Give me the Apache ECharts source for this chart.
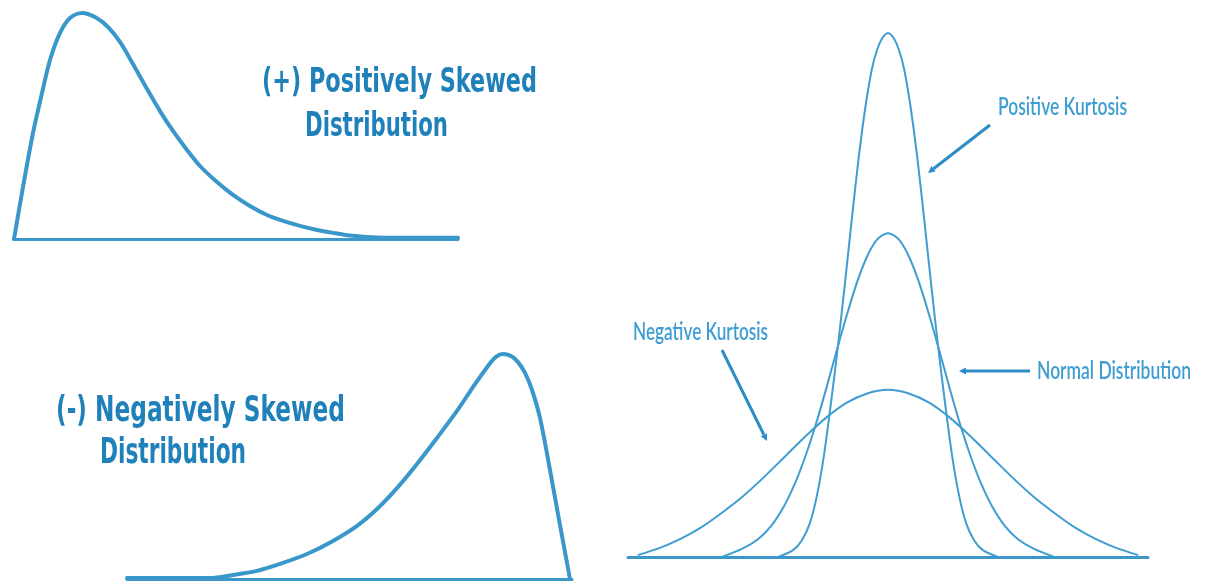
<!DOCTYPE html>
<html>
<head>
<meta charset="utf-8">
<script src="https://cdn.jsdelivr.net/npm/echarts@6/dist/echarts.min.js"></script>
<style>
  html, body { margin: 0; padding: 0; background: #ffffff; }
  #chart { width: 1205px; height: 584px; }
</style>
</head>
<body>
<div id="chart"></div>
<script>
// ---- Data (x: 0..100 across panel, y: 0..100 height) ----
const positiveSkew = [[0,0],[2.03,23.0],[4.28,46.9],[6.31,64.6],[8.11,79.2],[10.36,91.2],[12.61,97.8],[15.32,100],[18.24,98.2],[21.17,93.8],[23.87,87.2],[26.80,77.4],[29.95,66.4],[32.88,56.6],[35.81,47.8],[38.96,39.4],[41.89,32.3],[45.72,25.2],[49.32,19.5],[53.15,14.6],[56.98,10.6],[60.59,8.0],[64.41,5.8],[68.24,4.0],[71.85,2.7],[75.68,1.5],[79.50,0.9],[86.94,0.5],[100,0.5]];
const negativeSkew = [[0,0.4],[18.65,0.4],[23.82,1.8],[29.21,3.6],[34.38,6.7],[40.45,11.1],[46.29,16.9],[51.69,23.6],[56.18,31.1],[60.67,40.4],[65.17,51.1],[69.66,62.7],[74.16,74.7],[77.75,85.3],[81.12,94.7],[82.92,98.7],[84.49,100],[86.29,99.1],[87.87,96.4],[89.44,91.6],[91.01,84.0],[92.81,71.6],[95.06,48.4],[97.30,24.0],[99.55,0]];
// Kurtosis panel (x: -100..100 around the centre, y: 0..100)
const positiveKurtosis = [[-42.3,0],[-36.5,1.3],[-33.1,3.2],[-30.0,6.5],[-27.3,11.8],[-24.6,19.5],[-21.9,29.5],[-19.2,40.5],[-16.5,52.5],[-13.8,65.0],[-11.2,76.5],[-8.5,86.5],[-5.8,94.0],[-2.7,98.6],[0,100],[2.7,98.6],[5.8,94.0],[8.5,86.5],[11.2,76.5],[13.8,65.0],[16.5,52.5],[19.2,40.5],[21.9,29.5],[24.6,19.5],[27.3,11.8],[30.0,6.5],[33.1,3.2],[36.5,1.3],[42.3,0]];
const normalDistribution = [[-64,0],[-56,1.6],[-50,3.4],[-45,5.9],[-40,9.7],[-36,13.8],[-32,18.9],[-28,24.9],[-24,31.7],[-20,38.9],[-16,45.9],[-12,52.3],[-8,57.4],[-4,60.7],[0,61.8],[4,60.7],[8,57.4],[12,52.3],[16,45.9],[20,38.9],[24,31.7],[28,24.9],[32,18.9],[36,13.8],[40,9.7],[45,5.9],[50,3.4],[56,1.6],[64,0]];
const negativeKurtosis = [[-96,0.4],[-88,1.7],[-80,3.4],[-72,5.6],[-64,8.4],[-56,11.5],[-48,15.1],[-40,19.0],[-32,22.9],[-24,26.5],[-16,29.4],[-8,31.2],[0,31.9],[8,31.2],[16,29.4],[24,26.5],[32,22.9],[40,19.0],[48,15.1],[56,11.5],[64,8.4],[72,5.6],[80,3.4],[88,1.7],[96,0.4]];

const CURVE = '#3a97c9';
const CURVE_R = '#3f9dd0';
const TXT = '#1f80ba';
const TXT_R = '#3f9dd2';
const ARROW = '#2d8cc3';

const chart = echarts.init(document.getElementById('chart'), null, { renderer: 'canvas' });

function hiddenY(i) {
  return { type: 'value', gridIndex: i, min: 0, max: 100, show: false };
}
function baseX(i, min, max) {
  return {
    type: 'value', gridIndex: i, min: min, max: max,
    axisLine: { show: true, onZero: false, lineStyle: { color: CURVE, width: 3 } },
    axisTick: { show: false }, axisLabel: { show: false }, splitLine: { show: false }
  };
}
function curve(name, data, idx, color, width) {
  return {
    name: name, type: 'line', xAxisIndex: idx, yAxisIndex: idx, data: data,
    smooth: 0.3, showSymbol: false, clip: false, silent: true,
    lineStyle: { color: color, width: width, cap: 'round', join: 'round' }
  };
}

function fitScale(text, font, w) {
  const ctx = document.createElement('canvas').getContext('2d');
  ctx.font = font;
  return w / ctx.measureText(text).width;
}
const BOLD_FAMILY = '"Liberation Sans Narrow", "DejaVu Sans Condensed", "Liberation Sans", sans-serif';
const REG_FAMILY = 'Lato, "Open Sans", "Noto Sans", sans-serif';
const labels = [
  { text: '(+) Positively Skewed', x: 262, y: 83, w: 275, size: 33, bold: true, fill: TXT },
  { text: 'Distribution', x: 305, y: 127, w: 143, size: 33, bold: true, fill: TXT },
  { text: '(-) Negatively Skewed', x: 56, y: 412, w: 289, size: 36, bold: true, fill: TXT },
  { text: 'Distribution', x: 100, y: 454, w: 146, size: 36, bold: true, fill: TXT },
  { text: 'Positive Kurtosis', x: 998, y: 107, w: 129, size: 24, bold: false, fill: TXT_R },
  { text: 'Normal Distribution', x: 1037, y: 371, w: 154, size: 25, bold: false, fill: TXT_R },
  { text: 'Negative Kurtosis', x: 633, y: 332, w: 135, size: 24, bold: false, fill: TXT_R }
];
const graphics = [];
labels.forEach(function (l) {
  const weight = l.bold ? 'bold' : '600';
  const family = l.bold ? BOLD_FAMILY : REG_FAMILY;
  const font = weight + ' ' + l.size + 'px ' + family;
  graphics.push({
    type: 'text', x: l.x, y: l.y, scaleX: fitScale(l.text, font, l.w), silent: true,
    style: {
      text: l.text, fill: l.fill, fontSize: l.size,
      fontFamily: family, fontWeight: weight,
      align: 'left', verticalAlign: 'middle'
    }
  });
});
function arrow(x1, y1, x2, y2) {
  const dx = x2 - x1, dy = y2 - y1, len = Math.sqrt(dx * dx + dy * dy);
  const ux = dx / len, uy = dy / len, px = -uy, py = ux;
  const hl = 7, hw = 3.5;
  const bx = x2 - ux * hl, by = y2 - uy * hl;
  graphics.push({ type: 'line', silent: true, shape: { x1: x1, y1: y1, x2: bx, y2: by }, style: { stroke: ARROW, lineWidth: 3 } });
  graphics.push({ type: 'polygon', silent: true, shape: { points: [[x2, y2], [bx + px * hw, by + py * hw], [bx - px * hw, by - py * hw]] }, style: { fill: ARROW } });
}
arrow(990, 125, 928, 173);
arrow(1030, 371, 959, 371);
arrow(722, 350, 767, 441);

chart.setOption({
  animation: false,
  backgroundColor: '#ffffff',
  grid: [
    { left: 14, top: 13, width: 444, height: 226 },
    { left: 127, top: 354, width: 445, height: 225 },
    { left: 628, top: 33, width: 520, height: 524 }
  ],
  xAxis: [baseX(0, 0, 100), baseX(1, 0, 100), baseX(2, -100, 100)],
  yAxis: [hiddenY(0), hiddenY(1), hiddenY(2)],
  series: [
    curve('Positively Skewed', positiveSkew, 0, CURVE, 4),
    curve('Negatively Skewed', negativeSkew, 1, CURVE, 4),
    curve('Positive Kurtosis', positiveKurtosis, 2, CURVE_R, 2),
    curve('Normal Distribution', normalDistribution, 2, CURVE_R, 2),
    curve('Negative Kurtosis', negativeKurtosis, 2, CURVE_R, 2)
  ],
  graphic: graphics
});
</script>
</body>
</html>
